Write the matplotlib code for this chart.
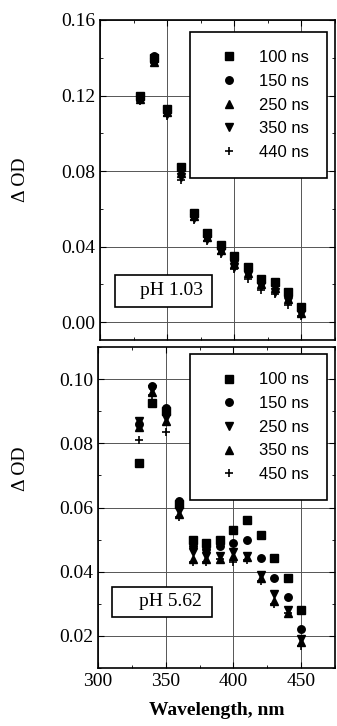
import matplotlib.pyplot as plt
from matplotlib.patches import Rectangle
from matplotlib.ticker import MultipleLocator

wl = [330, 340, 350, 360, 370, 380, 390, 400, 410, 420, 430, 440, 450]

# pH 1.03
a_100 = [0.120, 0.140, 0.113, 0.082, 0.058, 0.047, 0.041, 0.035, 0.029, 0.023, 0.021, 0.016, 0.008]
a_150 = [0.119, 0.141, 0.112, 0.081, 0.057, 0.046, 0.040, 0.033, 0.028, 0.022, 0.020, 0.015, 0.007]
a_250 = [0.118, 0.138, 0.111, 0.079, 0.056, 0.045, 0.038, 0.031, 0.026, 0.020, 0.018, 0.012, 0.005]
a_350 = [0.118, 0.138, 0.110, 0.077, 0.055, 0.044, 0.037, 0.029, 0.025, 0.019, 0.016, 0.011, 0.004]
a_440 = [0.117, 0.137, 0.109, 0.075, 0.054, 0.043, 0.036, 0.028, 0.023, 0.017, 0.015, 0.009, 0.003]

# pH 5.62
b_100 = [0.074, 0.0925, 0.090, 0.061, 0.050, 0.049, 0.050, 0.053, 0.056, 0.0513, 0.0444, 0.038, 0.028]
b_150 = [0.086, 0.098, 0.091, 0.062, 0.048, 0.047, 0.048, 0.049, 0.050, 0.0444, 0.038, 0.032, 0.022]
b_250 = [0.087, 0.097, 0.088, 0.059, 0.046, 0.045, 0.045, 0.046, 0.045, 0.039, 0.033, 0.028, 0.019]
b_350 = [0.085, 0.096, 0.087, 0.058, 0.044, 0.044, 0.044, 0.045, 0.0445, 0.038, 0.031, 0.027, 0.018]
b_450 = [0.081, 0.095, 0.0835, 0.057, 0.043, 0.043, 0.044, 0.043, 0.0435, 0.037, 0.030, 0.027, 0.017]

serif = 'Liberation Serif'
sans = 'Liberation Sans'

fig = plt.figure(figsize=(3.37, 7.26), dpi=100)
ax1 = fig.add_axes([100 / 337, 0.5317, 235 / 337, 320 / 726])
ax2 = fig.add_axes([98 / 337, 58 / 726, 237 / 337, 321 / 726])

ms = 5.4
ax1.plot(wl, a_100, 's', color='k', ms=ms, label='100 ns')
ax1.plot(wl, a_150, 'o', color='k', ms=ms, label='150 ns')
ax1.plot(wl, a_250, '^', color='k', ms=ms, label='250 ns')
ax1.plot(wl, a_350, 'v', color='k', ms=ms, label='350 ns')
ax1.plot(wl, a_440, '+', color='k', ms=ms + 1, mew=1.2, label='440 ns')

ax2.plot(wl, b_100, 's', color='k', ms=ms, label='100 ns')
ax2.plot(wl, b_150, 'o', color='k', ms=ms, label='150 ns')
ax2.plot(wl, b_250, 'v', color='k', ms=ms, label='250 ns')
ax2.plot(wl, b_350, '^', color='k', ms=ms, label='350 ns')
ax2.plot(wl, b_450, '+', color='k', ms=ms + 1, mew=1.2, label='450 ns')

ax1.set_ylim(-0.0095, 0.16)
ax1.yaxis.set_major_locator(MultipleLocator(0.04))
ax1.yaxis.set_minor_locator(MultipleLocator(0.02))
ax2.set_ylim(0.01, 0.11)
ax2.yaxis.set_major_locator(MultipleLocator(0.02))
ax2.yaxis.set_minor_locator(MultipleLocator(0.01))

for ax in (ax1, ax2):
    ax.set_xlim(300, 475)
    ax.xaxis.set_major_locator(MultipleLocator(50))
    ax.xaxis.set_minor_locator(MultipleLocator(25))
    ax.grid(True, which='major', color='#555555', lw=0.7)
    ax.set_axisbelow(True)
    ax.tick_params(which='both', direction='in', top=True, right=True)
    ax.tick_params(which='major', length=4)
    ax.tick_params(which='minor', length=2.5)
    for s in ax.spines.values():
        s.set_linewidth(1.2)

ax1.set_yticks([0.00, 0.04, 0.08, 0.12, 0.16])
ax1.set_yticklabels(['0.00', '0.04', '0.08', '0.12', '0.16'], fontname=serif, fontsize=14)
ax2.set_yticks([0.02, 0.04, 0.06, 0.08, 0.10])
ax2.set_yticklabels(['0.02', '0.04', '0.06', '0.08', '0.10'], fontname=serif, fontsize=14)
ax1.tick_params(axis='x', labelbottom=False)
ax2.set_xticks([300, 350, 400, 450])
ax2.set_xticklabels(['300', '350', '400', '450'], fontname=serif, fontsize=14)

ax1.set_ylabel('Δ OD', fontname=serif, fontsize=14)
ax1.yaxis.set_label_coords(-0.30, 0.5)
ax2.set_ylabel('Δ OD', fontname=serif, fontsize=14)
ax2.yaxis.set_label_coords(-0.29, 0.62)
ax2.set_xlabel('Wavelength, nm', fontname=serif, fontsize=14, fontweight='bold', labelpad=9)

for ax, anchor in ((ax1, (0.966, 0.9625)), (ax2, (0.966, 0.978))):
    leg = ax.legend(loc='upper right', bbox_to_anchor=anchor, frameon=True, fancybox=False,
                    prop={'family': sans, 'size': 12}, labelspacing=0.52,
                    handletextpad=0.6, borderpad=1.1, borderaxespad=0, handlelength=2.4)
    leg.get_frame().set_edgecolor('k')
    leg.get_frame().set_linewidth(1.2)
    leg.get_frame().set_alpha(1)

# pH boxes
ax1.add_patch(Rectangle((15 / 235, 33 / 320), 97 / 235, 32 / 320, transform=ax1.transAxes,
                        fill=True, facecolor='white', edgecolor='k', lw=1.2, zorder=5))
ax1.text(103 / 235, 49 / 320, 'pH 1.03', transform=ax1.transAxes, ha='right',
         va='center', fontname=serif, fontsize=14, zorder=6)
ax2.add_patch(Rectangle((14 / 237, 51 / 321), 100 / 237, 30 / 321, transform=ax2.transAxes,
                        fill=True, facecolor='white', edgecolor='k', lw=1.2, zorder=5))
ax2.text(104 / 237, 66 / 321, 'pH 5.62', transform=ax2.transAxes, ha='right',
         va='center', fontname=serif, fontsize=14, zorder=6)

fig.savefig('out.png', dpi=100)
